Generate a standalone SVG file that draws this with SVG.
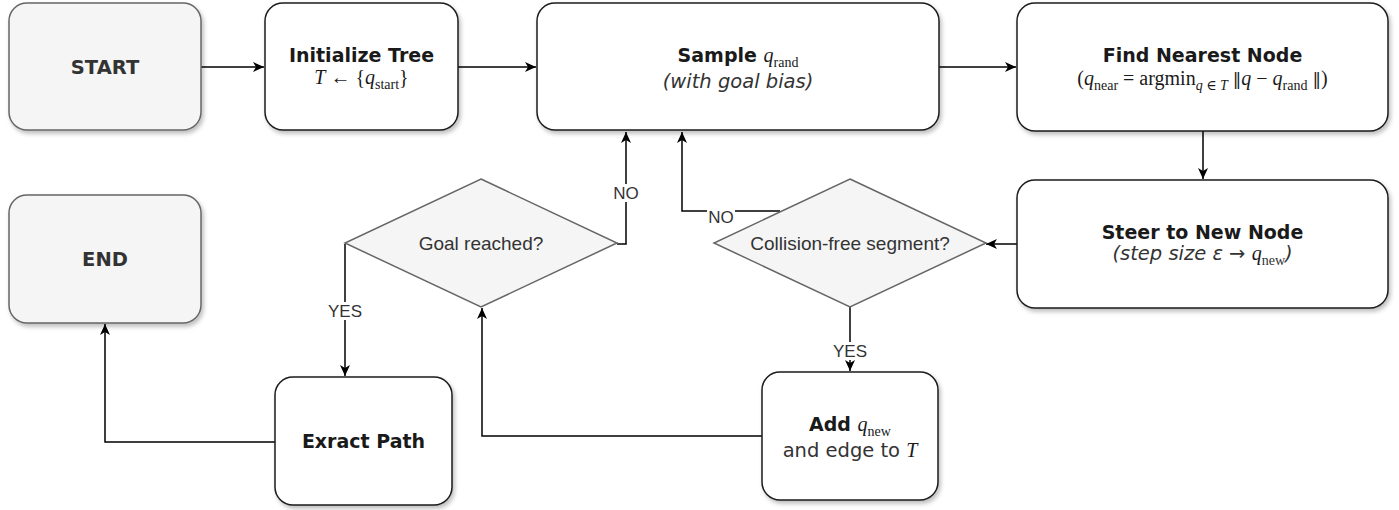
<svg xmlns="http://www.w3.org/2000/svg" width="1399" height="510" viewBox="0 0 1399 510">
  <style>
    .box { fill: #ffffff; stroke: #1a1a1a; stroke-width: 1.5; filter: url(#shadow); }
    .term { fill: #f5f5f5; stroke: #666666; stroke-width: 1.5; filter: url(#shadow); }
    .dec { fill: #f5f5f5; stroke: #666666; stroke-width: 1.5; }
    .title { font-family: "DejaVu Sans", Verdana, sans-serif; font-weight: bold; font-size: 19px; fill: #1a1a1a; text-anchor: middle; }
    .tterm { font-family: "DejaVu Sans", Verdana, sans-serif; font-weight: bold; font-size: 19.5px; fill: #333333; text-anchor: middle; }
    .note { font-family: "DejaVu Sans", Verdana, sans-serif; font-style: italic; font-size: 19.5px; fill: #333333; text-anchor: middle; }
    .plain { font-family: "DejaVu Sans", Verdana, sans-serif; font-size: 19.5px; fill: #333333; text-anchor: middle; }
    .math { font-family: "Liberation Serif", "DejaVu Serif", serif; font-size: 20px; fill: #1a1a1a; }
    .mi { font-family: "Liberation Serif", "DejaVu Serif", serif; font-style: italic; font-weight: normal; }
    .sub { font-family: "Liberation Serif", "DejaVu Serif", serif; font-size: 14px; font-style: normal; font-weight: normal; }
    .bar { font-family: "DejaVu Serif", serif; font-size: 17px; }
    .qtext { font-family: "Liberation Sans", Arial, sans-serif; font-size: 19px; fill: #333333; text-anchor: middle; }
    .lbl { font-family: "Liberation Sans", Arial, sans-serif; font-size: 17px; fill: #333333; text-anchor: middle; }
    .lblbg { fill: #ffffff; }
    .edge { fill: none; stroke: #000000; stroke-width: 1.5; }
  </style>
  <defs>
    <filter id="shadow" x="-10%" y="-10%" width="125%" height="130%">
      <feDropShadow dx="2" dy="3" stdDeviation="2" flood-color="#000000" flood-opacity="0.25"/>
    </filter>
    <marker id="arrow" markerUnits="userSpaceOnUse" markerWidth="12" markerHeight="10" refX="11" refY="5" orient="auto">
      <path d="M0,0 L11,5 L0,10 L3,5 Z" fill="#000000"/>
    </marker>
  </defs>

  <rect width="1399" height="510" fill="#ffffff"/>

  <!-- connectors -->
  <g id="connectors">
    <path class="edge" d="M201,67 L264,67" marker-end="url(#arrow)"/>
    <path class="edge" d="M458,67 L536,67" marker-end="url(#arrow)"/>
    <path class="edge" d="M939,67 L1016,67" marker-end="url(#arrow)"/>
    <path class="edge" d="M1203,131 L1203,179" marker-end="url(#arrow)"/>
    <path class="edge" d="M1017,244 L986,244" marker-end="url(#arrow)"/>
    <!-- collision check fails: back to sampling -->
    <path class="edge" d="M780,211 L682,211 L682,132" marker-end="url(#arrow)"/>
    <!-- goal not reached: back to sampling -->
    <path class="edge" d="M617,244 L626,244 L626,132" marker-end="url(#arrow)"/>
    <!-- goal reached -->
    <path class="edge" d="M345,244 L345,376" marker-end="url(#arrow)"/>
    <!-- segment free: add node -->
    <path class="edge" d="M850,307 L850,371" marker-end="url(#arrow)"/>
    <path class="edge" d="M762,436 L482,436 L482,308" marker-end="url(#arrow)"/>
    <path class="edge" d="M275,442 L105,442 L105,324" marker-end="url(#arrow)"/>

    <rect class="lblbg" x="707" y="204" width="28" height="16"/>
    <text class="lbl" x="721" y="223">NO</text>
    <rect class="lblbg" x="612" y="184" width="28" height="18"/>
    <text class="lbl" x="626" y="199">NO</text>
    <rect class="lblbg" x="327" y="302" width="36" height="18"/>
    <text class="lbl" x="345" y="317">YES</text>
    <rect class="lblbg" x="832" y="342" width="36" height="18"/>
    <text class="lbl" x="850" y="357">YES</text>
  </g>

  <g id="start">
    <rect class="term" x="9" y="3" width="192" height="127" rx="18"/>
    <text class="tterm" x="105" y="74">START</text>
  </g>

  <g id="init-tree">
    <rect class="box" x="265" y="3" width="193" height="127" rx="18"/>
    <text class="title" x="361.5" y="62">Initialize Tree</text>
    <text class="math" x="361.5" y="84" text-anchor="middle"><tspan class="mi">T</tspan> ← {<tspan class="mi">q</tspan><tspan class="sub" dy="5">start</tspan><tspan dy="-5">}</tspan></text>
  </g>

  <g id="sample">
    <rect class="box" x="537" y="3" width="402" height="127" rx="18"/>
    <text class="title" x="738" y="62">Sample <tspan class="math mi">q</tspan><tspan class="sub" dy="5">rand</tspan></text>
    <text class="note" x="738" y="88">(with goal bias)</text>
  </g>

  <g id="nearest">
    <rect class="box" x="1017" y="3" width="371" height="128" rx="18"/>
    <text class="title" x="1202.5" y="62">Find Nearest Node</text>
    <text class="math" x="1202.5" y="85" text-anchor="middle">(<tspan class="mi">q</tspan><tspan class="sub" dy="5">near</tspan><tspan dy="-5"> = argmin</tspan><tspan class="sub" dy="5"><tspan class="mi">q</tspan> ∈ <tspan class="mi">T</tspan></tspan><tspan dy="-5"> <tspan class="bar">‖</tspan><tspan class="mi">q</tspan> − <tspan class="mi">q</tspan></tspan><tspan class="sub" dy="5">rand</tspan><tspan dy="-5"> <tspan class="bar">‖</tspan>)</tspan></text>
  </g>

  <g id="steer">
    <rect class="box" x="1017" y="180" width="371" height="128" rx="18"/>
    <text class="title" x="1202.5" y="239">Steer to New Node</text>
    <text class="note" x="1202.5" y="260">(step size ε → <tspan class="math mi" fill="#333333">q</tspan><tspan class="sub" dy="5">new</tspan><tspan dy="-5">)</tspan></text>
  </g>

  <g id="collision-check">
    <polygon class="dec" points="850,179 986,243 850,307 714,243"/>
    <text class="qtext" x="850" y="250">Collision-free segment?</text>
  </g>

  <g id="goal-check">
    <polygon class="dec" points="481,179 617,243 481,307 345,243"/>
    <text class="qtext" x="481" y="250">Goal reached?</text>
  </g>

  <g id="add-node">
    <rect class="box" x="762" y="372" width="176" height="128" rx="18"/>
    <text class="title" x="850" y="431">Add <tspan class="math mi">q</tspan><tspan class="sub" dy="5">new</tspan></text>
    <text class="plain" x="850" y="457">and edge to <tspan class="math mi" fill="#333333">T</tspan></text>
  </g>

  <g id="extract-path">
    <rect class="box" x="275" y="377" width="177" height="128" rx="18"/>
    <text class="title" x="363.5" y="448">Exract Path</text>
  </g>

  <g id="end">
    <rect class="term" x="9" y="195" width="192" height="128" rx="18"/>
    <text class="tterm" x="105" y="266">END</text>
  </g>
</svg>
